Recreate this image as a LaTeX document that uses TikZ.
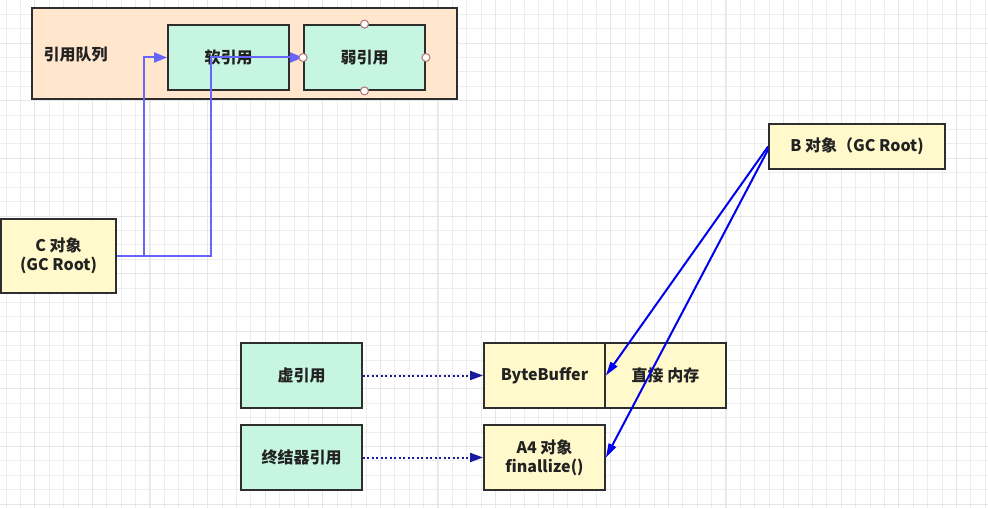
\documentclass[tikz,border=0pt]{standalone}
\usepackage{fontspec}
\setmainfont{Noto Sans CJK SC}
\usetikzlibrary{arrows.meta,calc}
\definecolor{peach}{HTML}{FFE6CC}
\definecolor{mint}{HTML}{C6F5E2}
\definecolor{cream}{HTML}{FFF9CB}
\definecolor{edgec}{HTML}{2E2E2E}
\definecolor{purpleblue}{HTML}{6666FF}
\definecolor{pureblue}{HTML}{0000EE}
\definecolor{dotblue}{HTML}{1A1AA0}
\definecolor{gridminor}{HTML}{EDEDED}
\definecolor{gridmajor}{HTML}{E6E6E6}
\definecolor{handle}{HTML}{B87070}
\definecolor{textc}{HTML}{222222}
\tikzset{
  box/.style={draw=edgec,line width=1.8pt,minimum width=121pt,minimum height=65pt,inner sep=0pt,font=\fontsize{16pt}{19pt}\selectfont\bfseries,align=center,text=textc},
  mintbox/.style={box,fill=mint},
  creambox/.style={box,fill=cream},
  softarrow/.style={draw=purpleblue,line width=2pt,-{Triangle[length=13pt,width=10pt]}},
  bluearrow/.style={draw=pureblue,line width=2pt,-{Triangle[length=14pt,width=8pt]}},
  dotarrow/.style={draw=dotblue,line width=2pt,dash pattern=on 2pt off 2.5pt,-{Triangle[length=13pt,width=9pt]}},
  handlec/.style={circle,draw=handle,fill=white,line width=1pt,minimum size=8pt,inner sep=0pt}
}
\begin{document}
\begin{tikzpicture}[x=1pt,y=-1pt]
\useasboundingbox (0,0) rectangle (988,508);
\fill[white] (0,0) rectangle (988,508);
% grid
\foreach \i in {0,...,68}{\draw[gridminor,line width=1pt] ({6+14.4*\i},0) -- ({6+14.4*\i},508);}
\foreach \j in {0,...,35}{\draw[gridminor,line width=1pt] (0,{14.4*\j}) -- (988,{14.4*\j});}
\foreach \i in {0,...,17}{\draw[gridmajor,line width=1pt] ({34.6+57.6*\i},0) -- ({34.6+57.6*\i},508);}
\foreach \j in {0,...,9}{\draw[gridmajor,line width=1pt] (0,{43.3+57.6*\j}) -- (988,{43.3+57.6*\j});}
% reference queue
\node[draw=edgec,line width=1.8pt,fill=peach,minimum width=425pt,minimum height=91pt,inner sep=0pt] (queue) at (244.5,53.5) {};
\node[font=\fontsize{16pt}{19pt}\selectfont\bfseries,anchor=west,text=textc] (qlabel) at (40,55) {引用队列};
\node[mintbox] (soft) at (228.5,57.5) {软引用};
\node[mintbox] (weak) at (364.5,57.5) {弱引用};
% C object
\node[creambox,minimum width=115pt,minimum height=74pt] (C) at (58.5,256) {C 对象\\(GC Root)};
% B object
\node[creambox,minimum width=176pt,minimum height=45pt] (B) at (857,146.5) {B 对象（GC Root)};
% bottom
\node[mintbox] (phantom) at (301.5,375.5) {虚引用};
\node[mintbox] (final) at (301.5,457.5) {终结器引用};
\node[creambox] (bb) at (544.5,375.5) {ByteBuffer};
\node[creambox] (mem) at (665.5,375.5) {直接 内存};
\node[creambox] (a4) at (544.5,457.5) {A4 对象\\finallize()};
% connectors
\draw[softarrow] (C.east) -- ++(27,0) |- (soft.west);
\draw[softarrow] (C.east) -- ++(94,0) |- (weak.west);
\draw[bluearrow] (B.west) -- (bb.east);
\draw[bluearrow] ($(B.west)+(0,3)$) -- (a4.east);
\draw[dotarrow] (phantom.east) -- (bb.west);
\draw[dotarrow] (final.east) -- (a4.west);
% selection handles
\node[handlec] (h1) at (weak.north) {};
\node[handlec] (h2) at (weak.south) {};
\node[handlec] (h3) at (weak.west) {};
\node[handlec] (h4) at (weak.east) {};
\end{tikzpicture}
\end{document}
